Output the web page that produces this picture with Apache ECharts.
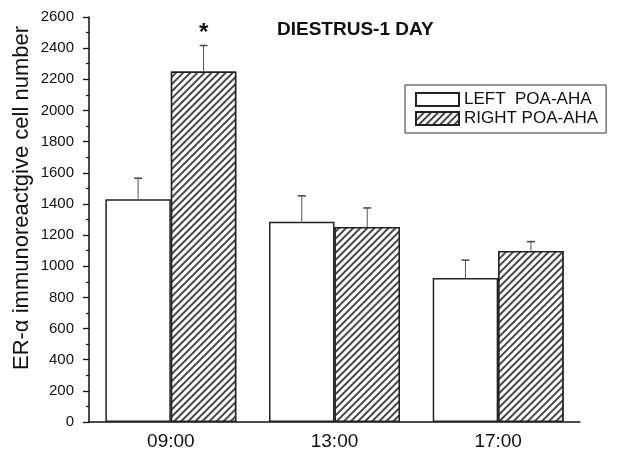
<!DOCTYPE html>
<html>
<head>
<meta charset="utf-8">
<script src="https://cdn.jsdelivr.net/npm/echarts@6/dist/echarts.min.js"></script>
<style>html,body{margin:0;padding:0;background:#fff;}#c{width:617px;height:459px;}</style>
</head>
<body>
<div id="c"></div>
<script>
var categories = ['09:00', '13:00', '17:00'];
var leftMeans = [1430, 1285, 925];
var leftErrors = [135, 167, 114];
var rightMeans = [2250, 1252, 1098];
var rightErrors = [167, 122, 60];
var rightMarks = ['*', '', ''];
var seriesNames = ['LEFT  POA-AHA', 'RIGHT POA-AHA'];
var yMin = 0, yMax = 2600, yStep = 200;

var FONT = 'Liberation Sans, Arial, sans-serif';
var chart = echarts.init(document.getElementById('c'));

function errData(means, errs, marks) {
  return means.map(function (m, i) { return [i, m, errs[i], marks ? marks[i] : '']; });
}
function errRender(side) {
  return function (params, api) {
    var ci = api.value(0), m = api.value(1), e = api.value(2);
    var mark = api.value(3);
    var band = api.size([1, 0])[0];
    var barW = band * 0.8 / 2;
    var base = api.coord([ci, m]);
    var top = api.coord([ci, m + e]);
    var x = base[0] + side * barW / 2;
    var children = [
      { type: 'line', shape: { x1: x, y1: base[1], x2: x, y2: top[1] }, style: { stroke: '#555', lineWidth: 1 } },
      { type: 'line', shape: { x1: x - 4, y1: top[1], x2: x + 4, y2: top[1] }, style: { stroke: '#444', lineWidth: 1.5 } }
    ];
    if (mark) {
      children.push({ type: 'text', x: x, y: top[1] - 12, style: { text: mark, font: 'bold 24px ' + FONT, fill: '#111', align: 'center', verticalAlign: 'middle' } });
    }
    return { type: 'group', children: children };
  };
}

var hatch = {
  symbol: 'rect', symbolSize: 1,
  dashArrayX: [1, 0], dashArrayY: [1.1, 2.6],
  rotation: -Math.PI / 4,
  color: 'rgba(40,40,40,0.85)', backgroundColor: '#fff'
};

chart.setOption({
  animation: false,
  backgroundColor: '#fff',
  textStyle: { fontFamily: FONT },
  title: {
    text: 'DIESTRUS-1 DAY', left: 272, top: 15,
    textStyle: { fontFamily: FONT, fontSize: 19, fontWeight: 'bold', color: '#111' }
  },
  legend: {
    orient: 'vertical', left: 405, top: 85,
    padding: [6, 8, 6, 10], itemGap: 2,
    itemWidth: 43, itemHeight: 13,
    borderColor: '#333', borderWidth: 1,
    icon: 'rect',
    textStyle: { fontFamily: FONT, fontSize: 17, color: '#111' },
    data: seriesNames
  },
  grid: { left: 89, right: 37, top: 17, bottom: 37 },
  xAxis: [{
    type: 'category', data: categories,
    axisLine: { lineStyle: { color: '#111', width: 1.5 } },
    axisTick: { alignWithLabel: true, length: 6, lineStyle: { color: '#111', width: 1.3 } },
    axisLabel: { fontSize: 19, color: '#111', margin: 10, fontFamily: FONT }
  }, {
    type: 'category', data: categories, position: 'bottom',
    axisLine: { show: false },
    axisTick: { length: 4, lineStyle: { color: '#111', width: 1.3 } },
    axisLabel: { show: false }
  }],
  yAxis: {
    type: 'value', min: yMin, max: yMax, interval: yStep,
    splitLine: { show: false },
    axisLine: { show: true, lineStyle: { color: '#111', width: 1.5 } },
    axisTick: { show: true, length: 6, lineStyle: { color: '#111', width: 1.3 } },
    minorTick: { show: true, splitNumber: 2, length: 3, lineStyle: { color: '#111', width: 1.2 } },
    axisLabel: { fontSize: 15, color: '#111', margin: 15, fontFamily: FONT, formatter: function (v) { return String(v); } }
  },
  graphic: [{
    type: 'text', x: 22, y: 198, rotation: Math.PI / 2,
    style: { text: 'ER-\u03b1 immunoreactgive cell number', font: '22px ' + FONT, fill: '#111', align: 'center', verticalAlign: 'middle' }
  }],
  series: [{
    name: seriesNames[0], type: 'bar', data: leftMeans,
    barGap: '0%', barCategoryGap: '20%',
    itemStyle: { color: '#fff', borderColor: '#222', borderWidth: 1.5 }
  }, {
    name: seriesNames[1], type: 'bar', data: rightMeans,
    barGap: '0%', barCategoryGap: '20%',
    itemStyle: { color: '#fff', borderColor: '#222', borderWidth: 1.5, decal: hatch }
  }, {
    type: 'custom', renderItem: errRender(-1), data: errData(leftMeans, leftErrors), z: 5, silent: true
  }, {
    type: 'custom', renderItem: errRender(1), data: errData(rightMeans, rightErrors, rightMarks), z: 5, silent: true
  }]
});
</script>
</body>
</html>
